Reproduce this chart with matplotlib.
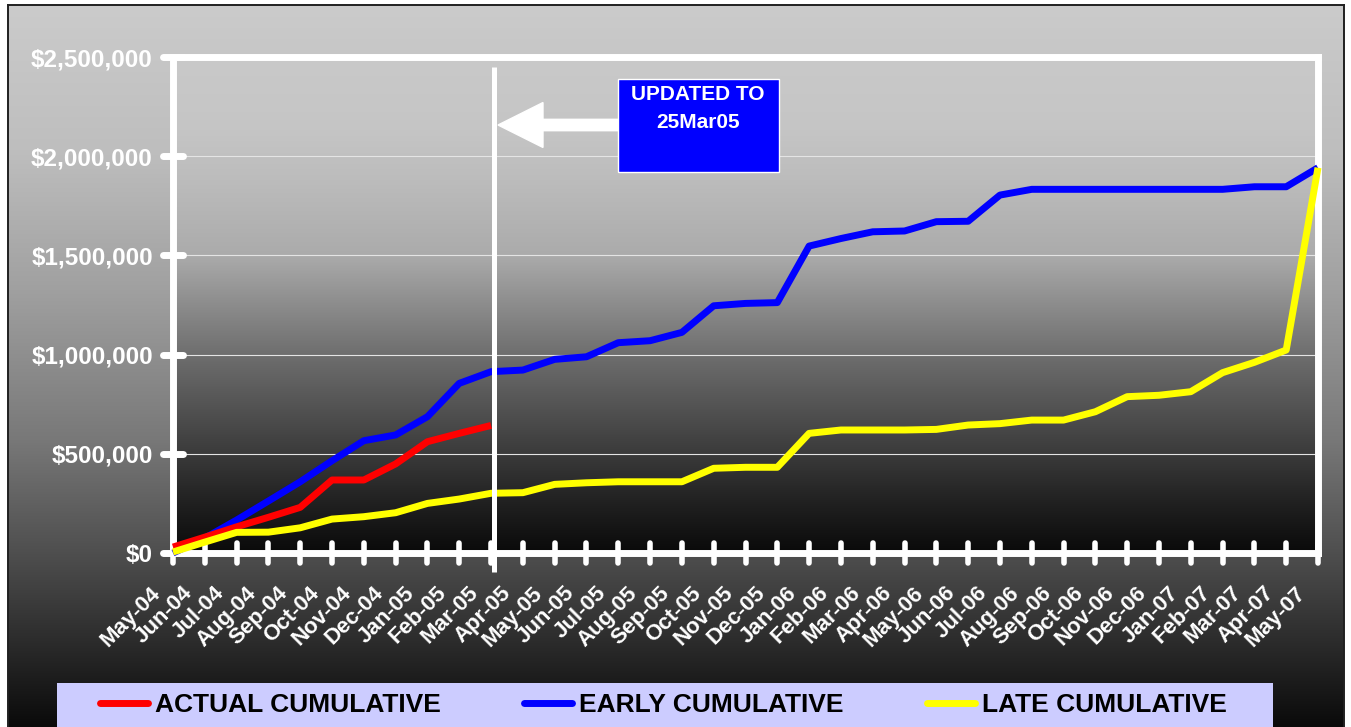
import numpy as np
import matplotlib
matplotlib.use("Agg")
import matplotlib.pyplot as plt
import matplotlib.transforms as mtransforms
from matplotlib.markers import MarkerStyle
from matplotlib.patches import Rectangle, FancyArrow
from matplotlib.lines import Line2D

plt.rcParams['font.family'] = ['Liberation Sans', 'DejaVu Sans']

# ---------------- data ----------------
months = ['May-04', 'Jun-04', 'Jul-04', 'Aug-04', 'Sep-04', 'Oct-04', 'Nov-04', 'Dec-04',
          'Jan-05', 'Feb-05', 'Mar-05', 'Apr-05', 'May-05', 'Jun-05', 'Jul-05', 'Aug-05',
          'Sep-05', 'Oct-05', 'Nov-05', 'Dec-05',
          'Jan-06', 'Feb-06', 'Mar-06', 'Apr-06', 'May-06', 'Jun-06', 'Jul-06', 'Aug-06',
          'Sep-06', 'Oct-06', 'Nov-06', 'Dec-06',
          'Jan-07', 'Feb-07', 'Mar-07', 'Apr-07', 'May-07']

actual = [30000, 80000, 132000, 180000, 230000, 368000, 368000, 449000, 561000, 603000, 643000]

early = [0, 75000, 166000, 262000, 359000, 465000, 566000, 595000,
         687000, 855000, 914000, 922000, 976000, 989000, 1060000, 1070000,
         1112000, 1246000, 1258000, 1262000,
         1547000, 1585000, 1619000, 1623000, 1670000, 1672000, 1804000, 1833000,
         1833000, 1833000, 1833000, 1833000,
         1833000, 1833000, 1846000, 1846000, 1942000]

late = [5000, 55000, 104000, 105000, 127000, 171000, 183000, 203000,
        250000, 272000, 301000, 304000, 346000, 354000, 359000, 359000,
        359000, 427000, 432000, 432000,
        603000, 620000, 620000, 620000, 623000, 645000, 652000, 670000,
        670000, 712000, 788000, 795000,
        813000, 909000, 961000, 1023000, 1942000]

y_ticks = [0, 500000, 1000000, 1500000, 2000000, 2500000]
y_tick_labels = ['$0', '$500,000', '$1,000,000', '$1,500,000', '$2,000,000', '$2,500,000']
series_names = ['ACTUAL CUMULATIVE', 'EARLY CUMULATIVE', 'LATE CUMULATIVE']
series_colors = ['#FF0000', '#0000FF', '#FFFF00']
note_lines = ['UPDATED TO', '25Mar05']
update_index = 10.1   # position of the "updated to" marker on the month axis

# ---------------- figure ----------------
W, H = 1351, 727
fig = plt.figure(figsize=(W / 100, H / 100), dpi=100, facecolor='white')
# pixel coordinates with the origin at the top-left corner
pix = mtransforms.Affine2D().scale(1.0 / W, -1.0 / H).translate(0, 1) + fig.transFigure


def fx(v):
    return v / W


def fy(v):
    return 1 - v / H


# outer chart area with vertical gradient
bg = fig.add_axes([fx(8), 0, fx(1344) - fx(8), fy(5)], zorder=0)
rows = np.arange(5, 728)
g = np.interp(rows, [5, 150, 290, 440, 560, 727], [203, 190, 160, 120, 76, 10]) / 255.0
img = np.repeat(g[:, None], 2, axis=1)
bg.imshow(np.dstack([img] * 3), aspect='auto', extent=(0, 1, 0, 1), interpolation='bilinear')
bg.set_xlim(0, 1)
bg.set_ylim(0, 1)
bg.set_xticks([])
bg.set_yticks([])
for s in ['left', 'right', 'top']:
    bg.spines[s].set_color('#202020')
    bg.spines[s].set_linewidth(1.4)
bg.spines['bottom'].set_visible(False)

# plot area
ax = fig.add_axes([fx(173), fy(553), fx(1318) - fx(173), fy(57) - fy(553)], zorder=1)
ax.patch.set_alpha(0)
n = len(months)
x = np.arange(n)

py = np.arange(57, 554)
pg = np.interp(py, [57, 130, 180, 255, 300, 353, 453, 500, 553],
               [201, 197, 188, 171, 143, 111, 59, 34, 10]) / 255.0
pimg = np.repeat(pg[:, None], 2, axis=1)
ax.imshow(np.dstack([pimg] * 3), aspect='auto', extent=(0, n - 1, 0, y_ticks[-1]),
          interpolation='bilinear', zorder=0)
ax.set_xlim(0, n - 1)
ax.set_ylim(0, y_ticks[-1])

ax.set_axisbelow(True)
ax.yaxis.grid(True, color='#E4E4E4', linewidth=0.8)
ax.xaxis.grid(False)

lw = 5
ax.plot(x, early, color=series_colors[1], lw=lw, zorder=3, clip_on=False,
        solid_joinstyle='round', solid_capstyle='butt')
ax.plot(x[:len(actual)], actual, color=series_colors[0], lw=lw, zorder=3.1, clip_on=False,
        solid_joinstyle='round', solid_capstyle='butt')
ax.plot(x, late, color=series_colors[2], lw=lw, zorder=3.2, clip_on=False,
        solid_joinstyle='round', solid_capstyle='butt')

for s in ax.spines.values():
    s.set_color('white')
    s.set_linewidth(5)

ax.set_xticks(x)
ax.set_xticklabels(months, rotation=45, ha='right', va='top', rotation_mode='anchor',
                   color='white', fontweight='bold', fontsize=16)
ax.set_yticks(y_ticks)
ax.set_yticklabels(y_tick_labels, color='white', fontweight='bold', fontsize=17.5)
ax.tick_params(axis='x', direction='inout', length=14.4, width=4, color='white', pad=14)
ax.tick_params(axis='y', direction='inout', length=15, width=5, color='white', pad=7)

for t in ax.xaxis.get_major_ticks():
    t.tick1line.set_marker(MarkerStyle('|', capstyle='round'))
for t in ax.yaxis.get_major_ticks():
    t.tick1line.set_marker(MarkerStyle('_', capstyle='round'))

off = mtransforms.ScaledTranslation(-23 / 100, 0, fig.dpi_scale_trans)
for lab in ax.get_xticklabels():
    lab.set_transform(lab.get_transform() + off)

# "updated to" marker line
ax.plot([update_index, update_index], [2450000, -96000], color='white', lw=3.6,
        zorder=4, clip_on=False, solid_capstyle='butt')

# arrow and note box
arrow = FancyArrow(620, 125, -122, 0, width=11.4, head_width=45, head_length=45,
                   length_includes_head=True, color='white', transform=pix, zorder=5)
fig.add_artist(arrow)
box = Rectangle((618, 79), 161, 93, facecolor='#0000FF', edgecolor='white', lw=1,
                transform=pix, zorder=5)
fig.add_artist(box)
fig.text(698, 94, note_lines[0], transform=pix, ha='center', va='center', color='white',
         fontweight='bold', fontsize=15, zorder=6)
fig.text(698, 123, note_lines[1], transform=pix, ha='center', va='center', color='white',
         fontweight='bold', fontsize=15, zorder=6)

# legend
leg_bg = Rectangle((57, 683), 1216, 60, facecolor='#CCCCFF', edgecolor='none',
                   transform=pix, zorder=5)
fig.add_artist(leg_bg)
handles = [Line2D([], [], color=c, lw=5, solid_capstyle='round') for c in series_colors]
leg = fig.legend(handles, series_names, ncol=3, loc='center left',
                 bbox_to_anchor=(100, 705), bbox_transform=pix, frameon=False,
                 prop={'family': 'Liberation Sans', 'weight': 'bold', 'size': 19},
                 handlelength=1.82, handletextpad=0.265, columnspacing=3.15,
                 borderpad=0, borderaxespad=0)
leg.set_zorder(6)

fig.savefig('out.png', dpi=100, facecolor='white')
